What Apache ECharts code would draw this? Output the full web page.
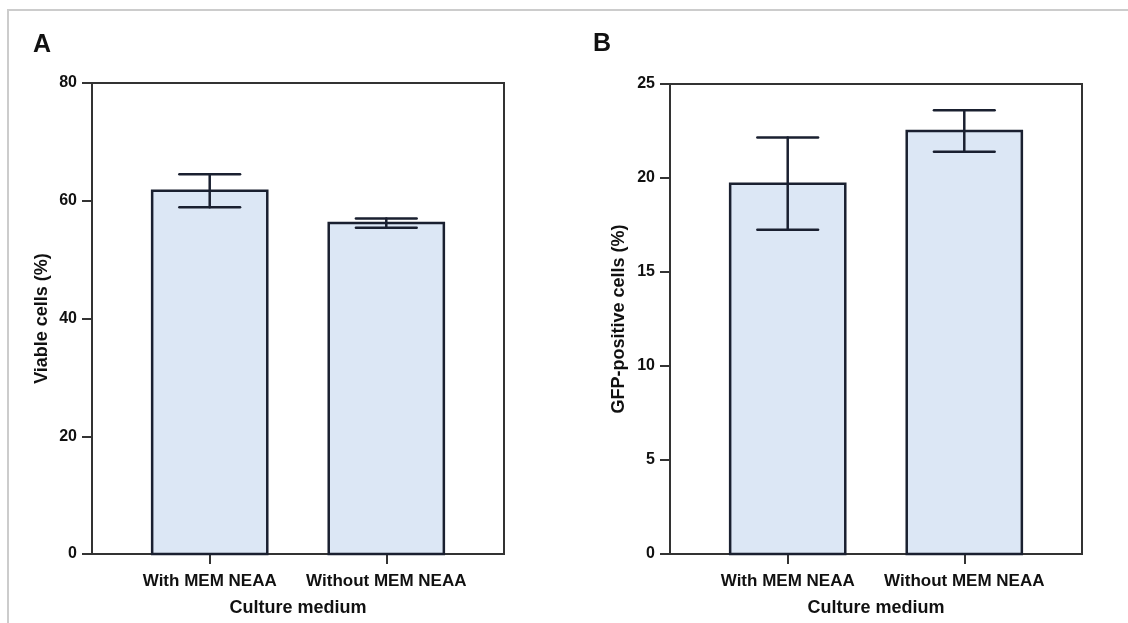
<!DOCTYPE html>
<html>
<head>
<meta charset="utf-8">
<script src="https://cdn.jsdelivr.net/npm/echarts@6/dist/echarts.min.js"></script>
<style>
html, body { margin: 0; padding: 0; background: #ffffff; }
#chart { width: 1128px; height: 623px; }
</style>
</head>
<body>
<div id="chart"></div>
<script>
// Culture media compared in both panels
const categories = ['With MEM NEAA', 'Without MEM NEAA'];

// Panel A: viable cells (%), mean and SD
const viableMean = [61.7, 56.2];
const viableSD = [2.8, 0.8];

// Panel B: GFP-positive cells (%), mean and SD
const gfpMean = [19.7, 22.5];
const gfpSD = [2.45, 1.1];

const panelLetters = ['A', 'B'];
const yNames = ['Viable cells (%)', 'GFP-positive cells (%)'];
const xName = 'Culture medium';

const FONT = '"Liberation Sans", Arial, Helvetica, sans-serif';
const INK = '#111111';
const AXIS = '#333333';
const BAR_FILL = '#dce7f5';
const BAR_EDGE = '#1a2030';

// category positions on a value axis: 1, 2
const catPos = categories.map((_, i) => i + 1);

function rows(mean, sd) {
  return mean.map((m, i) => [catPos[i], m, sd[i]]);
}

function barItem(params, api) {
  const x = api.value(0);
  const y = api.value(1);
  const halfW = 0.326;
  const p0 = api.coord([x - halfW, 0]);
  const p1 = api.coord([x + halfW, y]);
  return {
    type: 'rect',
    shape: { x: p0[0], y: p1[1], width: p1[0] - p0[0], height: p0[1] - p1[1] },
    style: { fill: BAR_FILL, stroke: BAR_EDGE, lineWidth: 2.5 }
  };
}

function errItem(params, api) {
  const x = api.value(0);
  const m = api.value(1);
  const s = api.value(2);
  const top = api.coord([x, m + s]);
  const bot = api.coord([x, m - s]);
  const capL = api.coord([x - 0.172, m])[0];
  const capR = api.coord([x + 0.172, m])[0];
  const st = { stroke: BAR_EDGE, lineWidth: 2.5, lineCap: 'round' };
  return {
    type: 'group',
    children: [
      { type: 'line', shape: { x1: top[0], y1: top[1], x2: bot[0], y2: bot[1] }, style: st },
      { type: 'line', shape: { x1: capL, y1: top[1], x2: capR, y2: top[1] }, style: st },
      { type: 'line', shape: { x1: capL, y1: bot[1], x2: capR, y2: bot[1] }, style: st }
    ]
  };
}

function xAxis(gridIndex) {
  return {
    type: 'value',
    gridIndex,
    min: 1 / 3,
    max: 8 / 3,
    name: xName,
    nameLocation: 'middle',
    nameGap: 45,
    nameTextStyle: { fontFamily: FONT, fontWeight: 'bold', fontSize: 18, color: INK },
    splitLine: { show: false },
    axisLine: { show: true, lineStyle: { color: AXIS, width: 2 } },
    axisTick: { show: true, customValues: catPos, length: 10, lineStyle: { color: AXIS, width: 2 } },
    axisLabel: {
      customValues: catPos,
      margin: 19,
      fontFamily: FONT, fontWeight: 'bold', fontSize: 17, color: INK,
      formatter: v => categories[Math.round(v) - 1] || ''
    }
  };
}

function yAxis(gridIndex, max, interval, name, gap) {
  return {
    type: 'value',
    gridIndex,
    min: 0,
    max,
    interval,
    name,
    nameLocation: 'middle',
    nameGap: gap,
    nameTextStyle: { fontFamily: FONT, fontWeight: 'bold', fontSize: 18, color: INK },
    splitLine: { show: false },
    axisLine: { show: true, lineStyle: { color: AXIS, width: 2 } },
    axisTick: { show: true, length: 10, lineStyle: { color: AXIS, width: 2 } },
    axisLabel: { margin: 15, fontFamily: FONT, fontWeight: 'bold', fontSize: 16, color: INK }
  };
}

const chart = echarts.init(document.getElementById('chart'), null, { renderer: 'canvas' });

chart.setOption({
  animation: false,
  backgroundColor: '#ffffff',
  title: [
    { text: panelLetters[0], left: 33, top: 33, padding: 0, textStyle: { fontFamily: FONT, fontWeight: 'bold', fontSize: 25, color: INK } },
    { text: panelLetters[1], left: 593, top: 32, padding: 0, textStyle: { fontFamily: FONT, fontWeight: 'bold', fontSize: 25, color: INK } }
  ],
  graphic: [
    {
      type: 'polyline',
      shape: { points: [[8, 640], [8, 10], [1140, 10]] },
      style: { stroke: '#cccccc', lineWidth: 2, fill: null },
      silent: true
    }
  ],
  grid: [
    { left: 92, top: 83, width: 412, height: 471, outerBoundsMode: 'none', show: true, borderColor: AXIS, borderWidth: 2, backgroundColor: 'transparent' },
    { left: 670, top: 84, width: 412, height: 470, outerBoundsMode: 'none', show: true, borderColor: AXIS, borderWidth: 2, backgroundColor: 'transparent' }
  ],
  xAxis: [xAxis(0), xAxis(1)],
  yAxis: [
    yAxis(0, 80, 20, yNames[0], 41),
    yAxis(1, 25, 5, yNames[1], 42)
  ],
  series: [
    { type: 'custom', xAxisIndex: 0, yAxisIndex: 0, renderItem: barItem, data: rows(viableMean, viableSD), z: 2 },
    { type: 'custom', xAxisIndex: 0, yAxisIndex: 0, renderItem: errItem, data: rows(viableMean, viableSD), z: 3 },
    { type: 'custom', xAxisIndex: 1, yAxisIndex: 1, renderItem: barItem, data: rows(gfpMean, gfpSD), z: 2 },
    { type: 'custom', xAxisIndex: 1, yAxisIndex: 1, renderItem: errItem, data: rows(gfpMean, gfpSD), z: 3 }
  ]
});
</script>
</body>
</html>
